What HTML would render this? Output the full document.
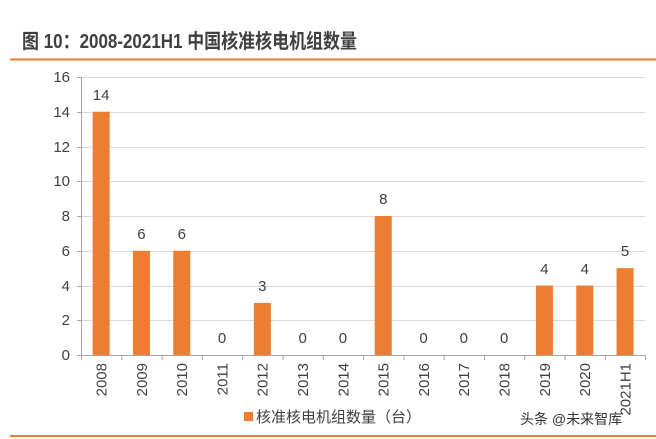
<!DOCTYPE html>
<html><head><meta charset="utf-8"><style>
body{margin:0;background:#fff;width:656px;height:439px;overflow:hidden;}
svg{display:block;font-family:"Liberation Sans","Noto Sans CJK SC",sans-serif;}
</style></head><body>
<svg width="656" height="439" viewBox="0 0 656 439">
<text x="22" y="48" font-size="20" font-weight="bold" fill="#404040" textLength="335" lengthAdjust="spacingAndGlyphs">图 10：2008-2021H1 中国核准核电机组数量</text>
<rect x="10" y="58.5" width="646" height="2" fill="#ED7D31"/>
<g stroke="#d9d9d9" stroke-width="1">
<line x1="81" y1="77.5" x2="645" y2="77.5"/><line x1="81" y1="112.5" x2="645" y2="112.5"/>
<line x1="81" y1="147.5" x2="645" y2="147.5"/><line x1="81" y1="181.5" x2="645" y2="181.5"/>
<line x1="81" y1="216.5" x2="645" y2="216.5"/><line x1="81" y1="251.5" x2="645" y2="251.5"/>
<line x1="81" y1="286.5" x2="645" y2="286.5"/><line x1="81" y1="320.5" x2="645" y2="320.5"/>
</g>
<g stroke="#a6a6a6" stroke-width="1">
<line x1="81.5" y1="77" x2="81.5" y2="355"/><line x1="81" y1="355.5" x2="645" y2="355.5"/>
<line x1="77" y1="77.5" x2="81" y2="77.5"/><line x1="77" y1="112.5" x2="81" y2="112.5"/><line x1="77" y1="147.5" x2="81" y2="147.5"/><line x1="77" y1="181.5" x2="81" y2="181.5"/><line x1="77" y1="216.5" x2="81" y2="216.5"/><line x1="77" y1="251.5" x2="81" y2="251.5"/><line x1="77" y1="286.5" x2="81" y2="286.5"/><line x1="77" y1="320.5" x2="81" y2="320.5"/><line x1="77" y1="355.5" x2="81" y2="355.5"/>
<line x1="81.5" y1="355" x2="81.5" y2="360"/><line x1="121.8" y1="355" x2="121.8" y2="360"/><line x1="162.1" y1="355" x2="162.1" y2="360"/><line x1="202.4" y1="355" x2="202.4" y2="360"/><line x1="242.7" y1="355" x2="242.7" y2="360"/><line x1="283" y1="355" x2="283" y2="360"/><line x1="323.3" y1="355" x2="323.3" y2="360"/><line x1="363.6" y1="355" x2="363.6" y2="360"/><line x1="403.9" y1="355" x2="403.9" y2="360"/><line x1="444.2" y1="355" x2="444.2" y2="360"/><line x1="484.5" y1="355" x2="484.5" y2="360"/><line x1="524.8" y1="355" x2="524.8" y2="360"/><line x1="565.1" y1="355" x2="565.1" y2="360"/><line x1="605.4" y1="355" x2="605.4" y2="360"/><line x1="645.5" y1="355" x2="645.5" y2="360"/>
</g>
<g font-size="15" fill="#404040" text-anchor="end">
<text x="70" y="82">16</text><text x="70" y="117">14</text><text x="70" y="152">12</text><text x="70" y="186">10</text><text x="70" y="221">8</text><text x="70" y="256">6</text><text x="70" y="291">4</text><text x="70" y="325">2</text><text x="70" y="360">0</text>
</g>
<g fill="#ED7D31">
<rect x="92.65" y="111.75" width="17" height="243.25"/>
<rect x="132.95" y="250.75" width="17" height="104.25"/>
<rect x="173.25" y="250.75" width="17" height="104.25"/>
<rect x="253.85" y="302.875" width="17" height="52.125"/>
<rect x="374.75" y="216" width="17" height="139"/>
<rect x="535.95" y="285.5" width="17" height="69.5"/>
<rect x="576.25" y="285.5" width="17" height="69.5"/>
<rect x="616.55" y="268.125" width="17" height="86.875"/>
</g>
<g font-size="15" fill="#404040" text-anchor="middle">
<text x="101.15" y="100">14</text><text x="141.45" y="239">6</text><text x="181.75" y="239">6</text><text x="222.05" y="343">0</text><text x="262.35" y="291">3</text><text x="302.65" y="343">0</text><text x="342.95" y="343">0</text><text x="383.25" y="204">8</text><text x="423.55" y="343">0</text><text x="463.85" y="343">0</text><text x="504.15" y="343">0</text><text x="544.45" y="274">4</text><text x="584.75" y="274">4</text><text x="625.05" y="256">5</text>
</g>
<g font-size="15" fill="#404040" text-anchor="end">
<text transform="translate(106.5,363) rotate(-90)">2008</text>
<text transform="translate(146.8,363) rotate(-90)">2009</text>
<text transform="translate(187.1,363) rotate(-90)">2010</text>
<text transform="translate(227.4,363) rotate(-90)">2011</text>
<text transform="translate(267.7,363) rotate(-90)">2012</text>
<text transform="translate(308,363) rotate(-90)">2013</text>
<text transform="translate(348.3,363) rotate(-90)">2014</text>
<text transform="translate(388.6,363) rotate(-90)">2015</text>
<text transform="translate(428.9,363) rotate(-90)">2016</text>
<text transform="translate(469.2,363) rotate(-90)">2017</text>
<text transform="translate(509.5,363) rotate(-90)">2018</text>
<text transform="translate(549.8,363) rotate(-90)">2019</text>
<text transform="translate(590.1,363) rotate(-90)">2020</text>
<text transform="translate(630.4,363) rotate(-90)">2021H1</text>
</g>
<rect x="244" y="412" width="9" height="9" fill="#ED7D31"/>
<text x="256" y="422" font-size="15" fill="#404040">核准核电机组数量（台）</text>
<text x="520" y="424" font-size="14" fill="#333">头条 @未来智库</text>
<rect x="10" y="435" width="646" height="2" fill="#ED7D31"/>
</svg>
</body></html>
